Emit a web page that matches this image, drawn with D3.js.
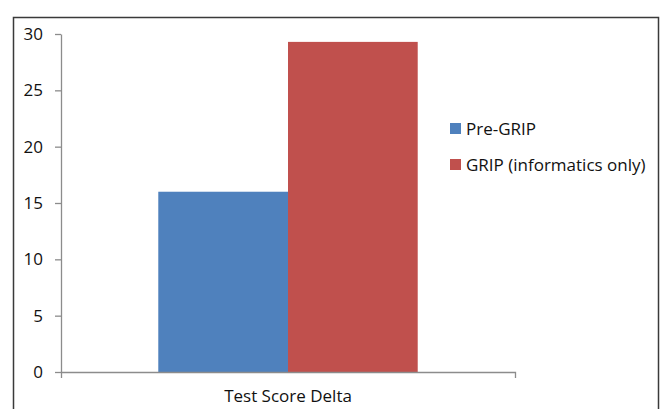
<!DOCTYPE html>
<html>
<head>
<meta charset="utf-8">
<script src="https://cdn.jsdelivr.net/npm/d3@7"></script>
<style>
    body { margin: 0; background: #fff; }
    svg text { font-family: "Open Sans", "Liberation Sans", sans-serif; fill: #111; }
</style>
</head>
<body>
<div id="chart"></div>
<script>
// data
let categories = ["Test Score Delta"];
let seriesNames = ["Pre-GRIP", "GRIP (informatics only)"];
let seriesValues = [[16.0], [29.3]];
let seriesColors = ["#4f81bd", "#c0504d"];
let yTicks = [0, 5, 10, 15, 20, 25, 30];

let W = 662, H = 409;
let margin = {top: 34, right: 147, bottom: 37, left: 61};
let width = W - margin.left - margin.right;
let height = H - margin.top - margin.bottom;

let svg = d3.select("#chart").append("svg")
    .attr("width", W)
    .attr("height", H);

// outer frame (bottom edge is cut off in the reference)
svg.append("rect")
    .attr("x", 13.5).attr("y", 17.5)
    .attr("width", 645).attr("height", 420)
    .attr("fill", "none")
    .attr("stroke", "#3a3a3a")
    .attr("stroke-width", 1.5);

let g = svg.append("g")
    .attr("transform", `translate(${margin.left}, ${margin.top})`);

// scales
let x0 = d3.scaleBand().domain(categories).range([0, width]).padding(0);
let x1 = d3.scaleBand().domain(seriesNames).range([0, x0.bandwidth()])
    .paddingInner(0).paddingOuter(0.75);
let y = d3.scaleLinear().domain([0, 30]).range([height, 0]);

// bars
let rows = [];
categories.forEach((c, ci) => {
    seriesNames.forEach((s, si) => {
        rows.push({cat: c, series: s, value: seriesValues[si][ci], color: seriesColors[si]});
    });
});

g.selectAll(".bar")
    .data(rows)
    .enter()
    .append("rect")
    .attr("class", "bar")
    .attr("x", d => x0(d.cat) + x1(d.series))
    .attr("y", d => y(d.value))
    .attr("width", x1.bandwidth())
    .attr("height", d => height - y(d.value))
    .attr("fill", d => d.color);

// y axis
let yAxis = g.append("g")
    .attr("class", "axis y-axis")
    .call(d3.axisLeft(y).tickValues(yTicks).tickSize(6).tickPadding(12).tickSizeOuter(0));
yAxis.select(".domain").attr("stroke", "#8c8c8c").attr("stroke-width", 1.3);
yAxis.selectAll(".tick line").attr("stroke", "#8c8c8c").attr("stroke-width", 1.3);
yAxis.selectAll("text").attr("font-size", "17px").attr("fill", "#111");

// x axis
let xAxis = g.append("g")
    .attr("class", "axis x-axis")
    .attr("transform", `translate(0, ${height})`)
    .call(d3.axisBottom(x0).tickSize(0).tickSizeOuter(6).tickPadding(18));
xAxis.select(".domain").attr("stroke", "#8c8c8c").attr("stroke-width", 1.3);
xAxis.selectAll("text").attr("font-size", "17px").attr("fill", "#111");

// legend
let legend = svg.append("g")
    .attr("transform", "translate(450, 123)");

let items = legend.selectAll(".legend-item")
    .data(seriesNames)
    .enter()
    .append("g")
    .attr("class", "legend-item")
    .attr("transform", (d, i) => `translate(0, ${i * 36})`);

items.append("rect")
    .attr("width", 11).attr("height", 11)
    .attr("fill", (d, i) => seriesColors[i]);

items.append("text")
    .attr("x", 16).attr("y", 11.5)
    .attr("font-size", "17px")
    .text(d => d);
</script>
</body>
</html>
